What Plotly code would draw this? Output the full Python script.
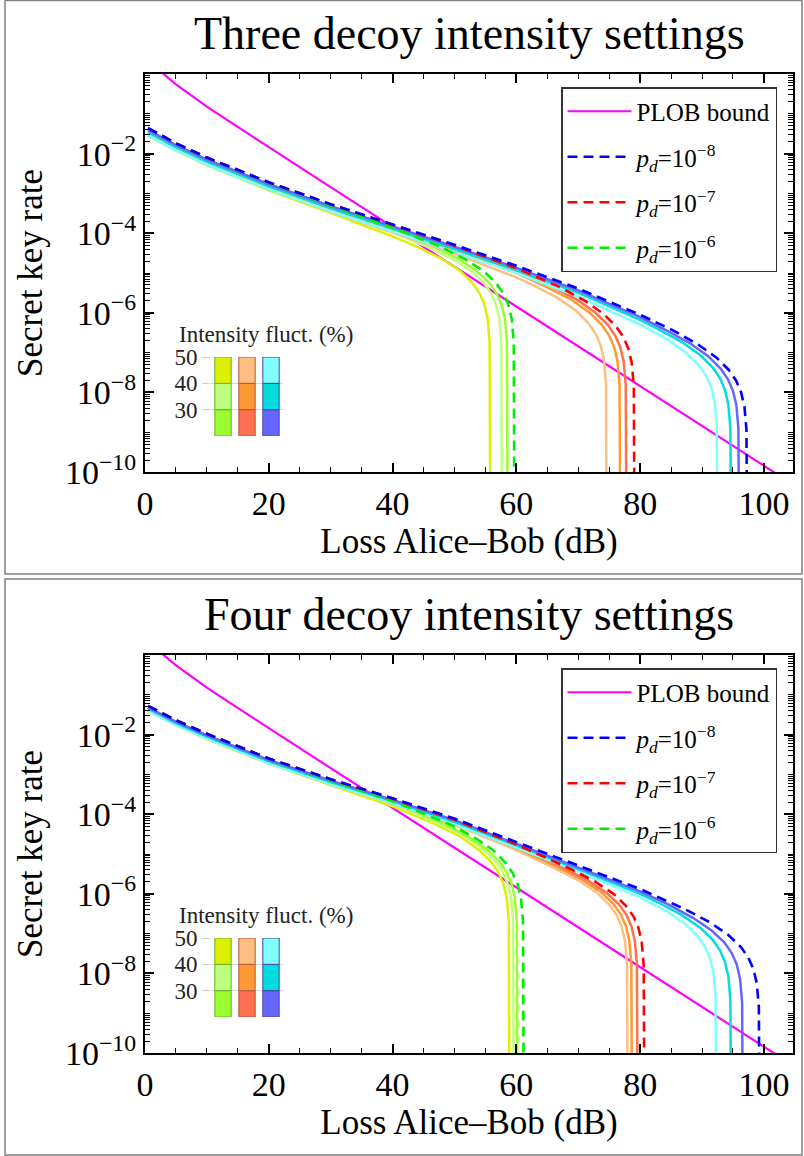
import plotly.graph_objects as go

SERIF = "Liberation Serif"
W, H = 804, 1156

# ---------------- data (loss in dB, log10 of secret key rate) ----------------
PLOB_L = [2.5, 3, 5, 7.5, 10, 12.5, 15, 20, 25, 30, 40, 50, 60, 70, 80, 90, 100, 102]
PLOB_R = [1.19, 1.0, 0.548, 0.283, 0.152, 0.0835, 0.0463, 0.0145, 4.57e-3, 1.44e-3,
          1.44e-4, 1.44e-5, 1.44e-6, 1.44e-7, 1.44e-8, 1.44e-9, 1.44e-10, 9.1e-11]

# ---- Three decoy intensity settings (top) ----
T_BD_L = [0.5, 5, 10, 20, 30, 40, 50, 60, 70, 80, 85.3, 89.3, 92.3, 94.3, 95.5, 96.3, 96.85, 97.18, 97.3]
T_BD_R = [-1.36, -1.74, -2.10, -2.72, -3.27, -3.78, -4.29, -4.82, -5.39, -6.05, -6.44, -6.79, -7.12, -7.43, -7.70, -7.99, -8.35, -8.94, -12]
T_B30_L = [0.5, 5, 10, 20, 30, 40, 50, 60, 70, 80, 84, 88, 91, 93, 94.2, 95, 95.55, 95.88, 96.0]
T_B30_R = [-1.41, -1.79, -2.15, -2.77, -3.32, -3.83, -4.34, -4.87, -5.44, -6.11, -6.42, -6.76, -7.09, -7.40, -7.67, -7.96, -8.32, -8.91, -12]
T_B40_L = [0.5, 5, 10, 20, 30, 40, 50, 60, 70, 80, 82.7, 86.7, 89.7, 91.7, 92.9, 93.7, 94.25, 94.58, 94.7]
T_B40_R = [-1.46, -1.84, -2.20, -2.82, -3.37, -3.88, -4.39, -4.92, -5.50, -6.18, -6.39, -6.73, -7.06, -7.37, -7.64, -7.93, -8.30, -8.88, -12]
T_B50_L = [0.5, 5, 10, 20, 30, 40, 50, 60, 70, 80, 84.5, 87.5, 89.5, 90.7, 91.5, 92.05, 92.38, 92.5]
T_B50_R = [-1.54, -1.92, -2.28, -2.90, -3.45, -3.96, -4.47, -5.00, -5.59, -6.30, -6.68, -7.01, -7.32, -7.59, -7.88, -8.24, -8.83, -12]

T_RD_L = [0.5, 5, 10, 20, 30, 40, 50, 60, 67.1, 71.1, 74.1, 76.1, 77.3, 78.1, 78.65, 78.98, 79.1]
T_RD_R = [-1.36, -1.74, -2.10, -2.72, -3.27, -3.79, -4.31, -4.88, -5.36, -5.70, -6.03, -6.34, -6.61, -6.90, -7.26, -7.85, -12]
T_O30_L = [0.5, 5, 10, 20, 30, 40, 50, 60, 65.8, 69.8, 72.8, 74.8, 76.0, 76.8, 77.35, 77.68, 77.8]
T_O30_R = [-1.41, -1.79, -2.15, -2.77, -3.33, -3.84, -4.37, -4.94, -5.34, -5.67, -6.00, -6.31, -6.58, -6.87, -7.23, -7.82, -12]
T_O40_L = [0.5, 5, 10, 20, 30, 40, 50, 60, 64.8, 68.8, 71.8, 73.8, 75.0, 75.8, 76.35, 76.68, 76.8]
T_O40_R = [-1.46, -1.84, -2.20, -2.82, -3.38, -3.90, -4.42, -5.00, -5.34, -5.66, -5.99, -6.30, -6.57, -6.86, -7.22, -7.81, -12]
T_O50_L = [0.5, 5, 10, 20, 30, 40, 50, 60, 62.6, 66.6, 69.6, 71.6, 72.8, 73.6, 74.15, 74.48, 74.6]
T_O50_R = [-1.54, -1.92, -2.28, -2.90, -3.46, -3.98, -4.51, -5.11, -5.30, -5.62, -5.94, -6.25, -6.52, -6.81, -7.17, -7.76, -12]

T_GD_L = [0.5, 5, 10, 20, 30, 40, 47.7, 51.7, 54.7, 56.7, 57.9, 58.7, 59.25, 59.58, 59.7]
T_GD_R = [-1.36, -1.74, -2.10, -2.73, -3.30, -3.86, -4.34, -4.65, -4.95, -5.25, -5.51, -5.79, -6.15, -6.74, -12]
T_G30_L = [0.5, 5, 10, 20, 30, 40, 46.6, 50.6, 53.6, 55.6, 56.8, 57.6, 58.15, 58.48, 58.6]
T_G30_R = [-1.41, -1.80, -2.16, -2.78, -3.35, -3.92, -4.34, -4.64, -4.95, -5.24, -5.51, -5.79, -6.14, -6.73, -12]
T_G40_L = [0.5, 5, 10, 20, 30, 40, 45.7, 49.7, 52.7, 54.7, 55.9, 56.7, 57.25, 57.58, 57.7]
T_G40_R = [-1.46, -1.84, -2.21, -2.83, -3.41, -3.98, -4.35, -4.65, -4.95, -5.24, -5.51, -5.79, -6.15, -6.73, -12]
T_G50_L = [0.5, 5, 10, 20, 30, 40, 43.8, 47.8, 50.8, 52.8, 54.0, 54.8, 55.35, 55.68, 55.8]
T_G50_R = [-1.54, -1.92, -2.29, -2.92, -3.49, -4.08, -4.33, -4.63, -4.93, -5.23, -5.49, -5.77, -6.13, -6.71, -12]

# ---- Four decoy intensity settings (bottom) ----
F_BD_L = [0.5, 5, 10, 20, 30, 40, 50, 60, 70, 80, 87.3, 91.3, 94.3, 96.3, 97.5, 98.3, 98.85, 99.18, 99.3]
F_BD_R = [-1.28, -1.64, -1.98, -2.60, -3.12, -3.60, -4.11, -4.70, -5.29, -5.88, -6.39, -6.72, -7.04, -7.34, -7.61, -7.89, -8.25, -8.84, -12]
F_B30_L = [0.5, 5, 10, 20, 30, 40, 50, 60, 70, 80, 84.6, 88.6, 91.6, 93.6, 94.8, 95.6, 96.15, 96.48, 96.6]
F_B30_R = [-1.32, -1.68, -2.02, -2.64, -3.16, -3.64, -4.15, -4.74, -5.34, -5.94, -6.27, -6.61, -6.93, -7.22, -7.49, -7.77, -8.14, -8.73, -12]
F_B40_L = [0.5, 5, 10, 20, 30, 40, 50, 60, 70, 80, 82.7, 86.7, 89.7, 91.7, 92.9, 93.7, 94.25, 94.58, 94.7]
F_B40_R = [-1.35, -1.71, -2.05, -2.67, -3.19, -3.67, -4.19, -4.78, -5.38, -6.00, -6.20, -6.53, -6.85, -7.15, -7.42, -7.71, -8.07, -8.66, -12]
F_B50_L = [0.5, 5, 10, 20, 30, 40, 50, 60, 70, 80, 84.3, 87.3, 89.3, 90.5, 91.3, 91.85, 92.18, 92.3]
F_B50_R = [-1.40, -1.76, -2.10, -2.72, -3.24, -3.72, -4.24, -4.83, -5.44, -6.09, -6.44, -6.76, -7.07, -7.34, -7.62, -7.98, -8.57, -12]

F_RD_L = [0.5, 5, 10, 20, 30, 40, 50, 60, 68.7, 72.7, 75.7, 77.7, 78.9, 79.7, 80.25, 80.58, 80.7]
F_RD_R = [-1.28, -1.64, -1.98, -2.60, -3.12, -3.61, -4.14, -4.76, -5.37, -5.69, -6.00, -6.30, -6.56, -6.84, -7.20, -7.79, -12]
F_O30_L = [0.5, 5, 10, 20, 30, 40, 50, 60, 67.6, 71.6, 74.6, 76.6, 77.8, 78.6, 79.15, 79.48, 79.6]
F_O30_R = [-1.32, -1.68, -2.02, -2.64, -3.16, -3.65, -4.17, -4.80, -5.34, -5.67, -5.98, -6.27, -6.53, -6.82, -7.19, -7.77, -12]
F_O40_L = [0.5, 5, 10, 20, 30, 40, 50, 60, 66.7, 70.7, 73.7, 75.7, 76.9, 77.7, 78.25, 78.58, 78.7]
F_O40_R = [-1.35, -1.71, -2.05, -2.67, -3.20, -3.68, -4.21, -4.85, -5.33, -5.65, -5.96, -6.26, -6.52, -6.81, -7.17, -7.75, -12]
F_O50_L = [0.5, 5, 10, 20, 30, 40, 50, 60, 66.0, 70.0, 73.0, 75.0, 76.2, 77.0, 77.55, 77.88, 78.0]
F_O50_R = [-1.40, -1.76, -2.10, -2.72, -3.25, -3.73, -4.27, -4.90, -5.34, -5.66, -5.97, -6.27, -6.53, -6.82, -7.18, -7.76, -12]

F_GD_L = [0.5, 5, 10, 20, 30, 40, 49.2, 53.2, 56.2, 58.2, 59.4, 60.2, 60.75, 61.08, 61.2]
F_GD_R = [-1.28, -1.64, -1.98, -2.61, -3.15, -3.67, -4.25, -4.58, -4.90, -5.21, -5.48, -5.76, -6.12, -6.71, -12]
F_G30_L = [0.5, 5, 10, 20, 30, 40, 48.2, 52.2, 55.2, 57.2, 58.4, 59.2, 59.75, 60.08, 60.2]
F_G30_R = [-1.32, -1.68, -2.02, -2.65, -3.18, -3.71, -4.23, -4.56, -4.88, -5.18, -5.45, -5.73, -6.10, -6.68, -12]
F_G40_L = [0.5, 5, 10, 20, 30, 40, 47.6, 51.6, 54.6, 56.6, 57.8, 58.6, 59.15, 59.48, 59.6]
F_G40_R = [-1.35, -1.71, -2.05, -2.68, -3.22, -3.75, -4.24, -4.55, -4.88, -5.18, -5.45, -5.74, -6.10, -6.69, -12]
F_G50_L = [0.5, 5, 10, 20, 30, 40, 46.9, 50.9, 53.9, 55.9, 57.1, 57.9, 58.45, 58.78, 58.9]
F_G50_R = [-1.40, -1.76, -2.11, -2.73, -3.27, -3.80, -4.25, -4.56, -4.89, -5.19, -5.46, -5.75, -6.11, -6.70, -12]

# inset colour key
FLUCT_LEVELS = [30, 40, 50]
KEY_GROUPS = ["g", "o", "b"]

X_TICKS = [0, 20, 40, 60, 80, 100]
Y_LABELLED = [-10, -8, -6, -4, -2]

# ---------------- styles ----------------
COL = {
    ("g", 30): "#99ff33", ("g", 40): "#bfff80", ("g", 50): "#ddf000",
    ("o", 30): "#ff7050", ("o", 40): "#ff9933", ("o", 50): "#ffbf80",
    ("b", 30): "#6666ff", ("b", 40): "#00dddd", ("b", 50): "#80ffff",
}
EDGE = {"g": "#66b322", "o": "#b0553a", "b": "#4444aa"}
DASH_COL = {"b": "#0000ff", "r": "#ff0000", "g": "#00ee00"}
DASH = "10px,6px"

fig = go.Figure()


def add_panel(xa, ya, leg, solids, dashed):
    fig.add_trace(go.Scatter(x=PLOB_L, y=PLOB_R, mode="lines", name="PLOB bound",
                             line=dict(color="#ff00ff", width=2.2), xaxis=xa, yaxis=ya,
                             legend=leg, legendgroup=leg + "plob"))
    for key, exp in (("b", "8"), ("r", "7"), ("g", "6")):
        fig.add_trace(go.Scatter(x=[None], y=[None], mode="lines",
                                 name="<i>p</i><sub><i>d</i></sub>=10<sup>\u2212" + exp + "</sup>",
                                 line=dict(color=DASH_COL[key], width=2.5, dash=DASH),
                                 xaxis=xa, yaxis=ya, legend=leg, legendgroup=leg + key))
    for (grp, lvl), (L, R) in solids:
        fig.add_trace(go.Scatter(x=L, y=[10 ** v for v in R], mode="lines", showlegend=False,
                                 line=dict(color=COL[(grp, lvl)], width=2.5), xaxis=xa, yaxis=ya,
                                 hoverinfo="skip"))
    for key, (L, R) in dashed:
        fig.add_trace(go.Scatter(x=L, y=[10 ** v for v in R], mode="lines", showlegend=False,
                                 line=dict(color=DASH_COL[key], width=2.6, dash=DASH),
                                 xaxis=xa, yaxis=ya, hoverinfo="skip"))


add_panel("x", "y", "legend",
          [(("g", 50), (T_G50_L, T_G50_R)), (("g", 40), (T_G40_L, T_G40_R)), (("g", 30), (T_G30_L, T_G30_R)),
           (("o", 50), (T_O50_L, T_O50_R)), (("o", 40), (T_O40_L, T_O40_R)), (("o", 30), (T_O30_L, T_O30_R)),
           (("b", 50), (T_B50_L, T_B50_R)), (("b", 40), (T_B40_L, T_B40_R)), (("b", 30), (T_B30_L, T_B30_R))],
          [("g", (T_GD_L, T_GD_R)), ("r", (T_RD_L, T_RD_R)), ("b", (T_BD_L, T_BD_R))])
add_panel("x2", "y2", "legend2",
          [(("g", 50), (F_G50_L, F_G50_R)), (("g", 40), (F_G40_L, F_G40_R)), (("g", 30), (F_G30_L, F_G30_R)),
           (("o", 50), (F_O50_L, F_O50_R)), (("o", 40), (F_O40_L, F_O40_R)), (("o", 30), (F_O30_L, F_O30_R)),
           (("b", 50), (F_B50_L, F_B50_R)), (("b", 40), (F_B40_L, F_B40_R)), (("b", 30), (F_B30_L, F_B30_R))],
          [("g", (F_GD_L, F_GD_R)), ("r", (F_RD_L, F_RD_R)), ("b", (F_BD_L, F_BD_R))])

for xa, ya in (("x3", "y3"), ("x4", "y4")):
    for lvl in FLUCT_LEVELS:
        fig.add_trace(go.Bar(x=[0, 1, 2], y=[10, 10, 10], base=[lvl - 10] * 3, width=0.68,
                             marker=dict(color=[COL[(g, lvl)] for g in KEY_GROUPS],
                                         line=dict(color=[EDGE[g] for g in KEY_GROUPS], width=1)),
                             showlegend=False, hoverinfo="skip", xaxis=xa, yaxis=ya))


def px_x(p):
    return p / W


def px_y(p):
    return 1 - p / H


y_minor = [m * 10.0 ** k for k in range(-10, 1) for m in range(1, 10)
           if not (m == 1 and k in Y_LABELLED) and 10.0 ** k * m <= 1.0]
y_text = ["10<sup>\u2212%d</sup>" % (-k) for k in Y_LABELLED]

main_x = dict(range=[0, 104.7], tickvals=X_TICKS, ticks="inside", ticklen=9, tickwidth=1.5,
              tickcolor="black", showline=True, linecolor="black", linewidth=2.2, mirror="allticks",
              showgrid=False, zeroline=False, automargin=False,
              tickfont=dict(family=SERIF, size=34, color="black"),
              minor=dict(tickvals=[v for v in range(0, 105, 5) if v % 20], ticks="inside", ticklen=5,
                         tickwidth=1.2, tickcolor="black"),
              title=dict(text="Loss Alice\u2013Bob (dB)", font=dict(family=SERIF, size=35, color="black"),
                         standoff=8))
main_y = dict(type="log", range=[-10, 0], tickvals=[10.0 ** k for k in Y_LABELLED], ticktext=y_text,
              ticks="inside", ticklen=9, tickwidth=1.5, tickcolor="black", showline=True,
              linecolor="black", linewidth=2.2, mirror="allticks", showgrid=False, zeroline=False,
              automargin=False, tickfont=dict(family=SERIF, size=34, color="black"),
              minor=dict(tickvals=y_minor, ticks="inside", ticklen=5, tickwidth=1.2, tickcolor="black"),
              title=dict(text="Secret key rate", font=dict(family=SERIF, size=35, color="black"), standoff=12))

key_x = dict(range=[-0.5, 2.5], showticklabels=False, ticks="", showline=False, showgrid=False,
             zeroline=False, fixedrange=True, automargin=False)
key_y = dict(range=[20, 50], tickvals=[30, 40, 50], ticks="outside", ticklen=8, tickcolor="#cccccc",
             showgrid=True, gridcolor="#d4d4d4", gridwidth=1, showline=False, zeroline=False,
             automargin=False, tickfont=dict(family=SERIF, size=23, color="#222"))

legend_style = dict(xanchor="left", yanchor="top", bgcolor="white", bordercolor="#333", borderwidth=1.5,
                    font=dict(family=SERIF, size=25, color="black"), traceorder="grouped",
                    tracegroupgap=10, itemwidth=64)

fig.update_layout(
    width=W, height=H, margin=dict(l=0, r=0, t=0, b=0, autoexpand=False),
    paper_bgcolor="white", plot_bgcolor="white", barmode="overlay",
    xaxis=dict(main_x, domain=[px_x(145), px_x(793)], anchor="y"),
    yaxis=dict(main_y, domain=[px_y(472), px_y(74)], anchor="x"),
    xaxis2=dict(main_x, domain=[px_x(145), px_x(793)], anchor="y2"),
    yaxis2=dict(main_y, domain=[px_y(1053), px_y(655)], anchor="x2"),
    xaxis3=dict(key_x, domain=[px_x(211), px_x(283)], anchor="y3"),
    yaxis3=dict(key_y, domain=[px_y(436), px_y(357)], anchor="x3"),
    xaxis4=dict(key_x, domain=[px_x(211), px_x(283)], anchor="y4"),
    yaxis4=dict(key_y, domain=[px_y(1017), px_y(938)], anchor="x4"),
    legend=dict(legend_style, x=px_x(561), y=px_y(87)),
    legend2=dict(legend_style, x=px_x(561), y=px_y(668)),
    annotations=[
        dict(text="Three decoy intensity settings", x=px_x(469), y=px_y(33), xref="paper", yref="paper",
             showarrow=False, xanchor="center", yanchor="middle",
             font=dict(family=SERIF, size=46, color="black")),
        dict(text="Four decoy intensity settings", x=px_x(469), y=px_y(614), xref="paper", yref="paper",
             showarrow=False, xanchor="center", yanchor="middle",
             font=dict(family=SERIF, size=46, color="black")),
        dict(text="Intensity fluct. (%)", x=px_x(177), y=px_y(334), xref="paper", yref="paper",
             showarrow=False, xanchor="left", yanchor="middle",
             font=dict(family=SERIF, size=23, color="#222")),
        dict(text="Intensity fluct. (%)", x=px_x(177), y=px_y(915), xref="paper", yref="paper",
             showarrow=False, xanchor="left", yanchor="middle",
             font=dict(family=SERIF, size=23, color="#222")),
    ],
    shapes=[
        dict(type="rect", xref="paper", yref="paper", x0=px_x(5), x1=px_x(802), y0=px_y(574), y1=px_y(0.5),
             line=dict(color="#808080", width=1.5)),
        dict(type="rect", xref="paper", yref="paper", x0=px_x(5), x1=px_x(802), y0=px_y(1155), y1=px_y(579),
             line=dict(color="#808080", width=1.5)),
    ],
)

fig.write_html("out.html", config={"displayModeBar": False},
               post_script="document.body.style.margin='0';document.body.style.overflow='hidden';")
